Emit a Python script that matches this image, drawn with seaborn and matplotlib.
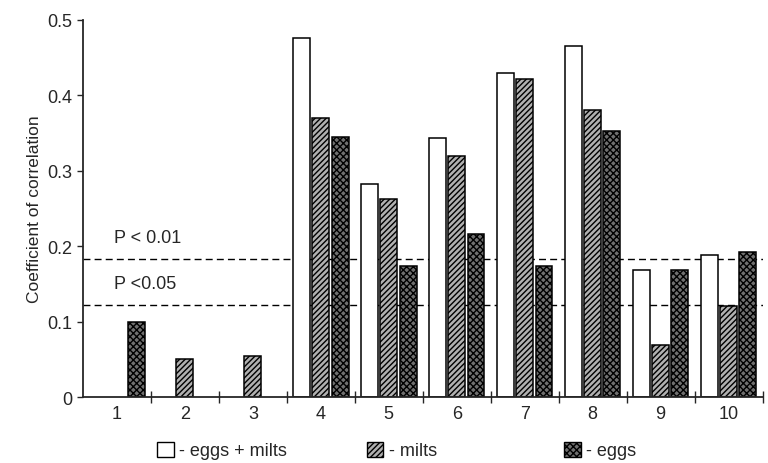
import numpy as np
import pandas as pd
import seaborn as sns
import matplotlib.pyplot as plt
from matplotlib.patches import Patch

# values
groups = ["1", "2", "3", "4", "5", "6", "7", "8", "9", "10"]
series = ["eggs + milts", "milts", "eggs"]
eggs_milts = [np.nan, np.nan, np.nan, 0.476, 0.282, 0.343, 0.429, 0.465, 0.168, 0.189]
milts = [np.nan, 0.051, 0.054, 0.370, 0.263, 0.320, 0.421, 0.380, 0.069, 0.121]
eggs = [0.100, np.nan, np.nan, 0.345, 0.174, 0.216, 0.174, 0.353, 0.168, 0.192]
p01 = 0.183
p05 = 0.122

sns.set_style("ticks")
plt.rcParams["font.family"] = ["Liberation Sans", "DejaVu Sans"]
plt.rcParams["hatch.linewidth"] = 1.0

df = pd.DataFrame({
    "group": groups * 3,
    "series": [s for s in series for _ in groups],
    "r": eggs_milts + milts + eggs,
})

fig = plt.figure(figsize=(7.68, 4.64), dpi=100)
ax = fig.add_axes([0.108, 0.142, 0.885, 0.813])

# significance levels behind the bars
ax.axhline(p01, color="black", ls=(0, (5, 3)), lw=1.0, zorder=0.5)
ax.axhline(p05, color="black", ls=(0, (5, 3)), lw=1.0, zorder=0.5)
ax.text(-0.05, p01 + 0.022, "P < 0.01", fontsize=13)
ax.text(-0.05, p05 + 0.022, "P <0.05", fontsize=13)

faces = {"eggs + milts": "white", "milts": "#b0b0b0", "eggs": "#707070"}
hatches = ["", "//////", "xxxxx"]

sns.barplot(
    data=df, x="group", y="r", hue="series", order=groups,
    hue_order=series, palette=faces, width=0.85, gap=0.12,
    edgecolor="black", linewidth=1.1, legend=False, ax=ax, zorder=2,
)
for cont, h in zip(ax.containers, hatches):
    for bar in cont:
        bar.set_hatch(h)

ax.set_xlim(-0.5, 9.5)
ax.set_ylim(0, 0.5)
ax.set_yticks([0, 0.1, 0.2, 0.3, 0.4, 0.5])
ax.set_yticklabels(["0", "0.1", "0.2", "0.3", "0.4", "0.5"])
ax.set_xticks(np.arange(0.5, 10.0, 1.0), minor=True)
ax.tick_params(axis="x", which="major", length=0, labelsize=13, pad=6)
ax.tick_params(axis="x", which="minor", direction="inout", length=8, width=1.0)
ax.tick_params(axis="y", labelsize=13, length=4, width=1.0)
ax.set_xlabel("")
ax.set_ylabel("Coefficient of correlation", fontsize=12.5, labelpad=4)
sns.despine(ax=ax, top=True, right=True)
ax.spines["left"].set_linewidth(1.3)
ax.spines["bottom"].set_linewidth(1.3)

# legend items along the bottom
legend_x = [0.205, 0.478, 0.735]
for lab, h, x in zip(series, hatches, legend_x):
    handle = Patch(facecolor=faces[lab], edgecolor="black", hatch=h, lw=1.0)
    fig.legend(
        handles=[handle], labels=["- " + lab], loc="center left",
        bbox_to_anchor=(x, 0.027), frameon=False, fontsize=13,
        handlelength=0.9, handleheight=0.9, handletextpad=0.3,
        borderpad=0, borderaxespad=0,
    )

fig.savefig("out.png", dpi=100)
